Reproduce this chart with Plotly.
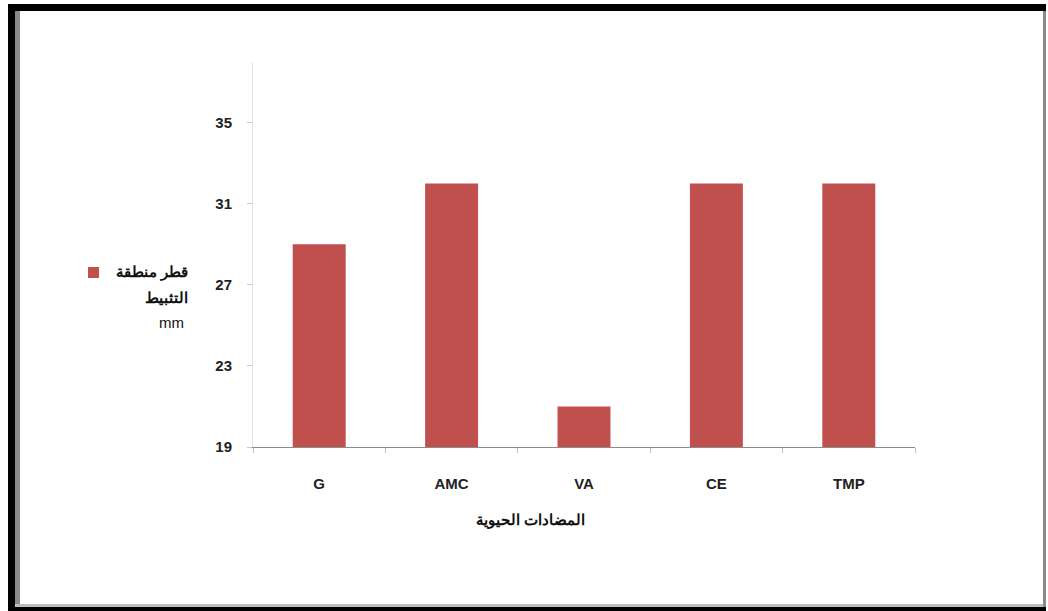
import plotly.graph_objects as go

categories = ["G", "AMC", "VA", "CE", "TMP"]
values = [29, 32, 21, 32, 32]
y_ticks = [19, 23, 27, 31, 35]
series_lines = ["قطر منطقة", "التثبيط", "mm"]
x_title = "المضادات الحيوية"

W, H = 1048, 611
L, R, T, B = 253, 915, 62, 447

def px(x):
    return (x - L) / (R - L)

def py(y):
    return (B - y) / (B - T)

BAR = "#c0504d"
FONT = "Liberation Sans"

fig = go.Figure()
fig.add_trace(go.Bar(x=categories, y=values, marker=dict(color=BAR, line=dict(width=0)),
                     showlegend=False))

fig.update_layout(
    width=W, height=H,
    margin=dict(l=L, r=W - R, t=T, b=H - B),
    paper_bgcolor="white", plot_bgcolor="white",
    bargap=0.6,
    font=dict(family=FONT, size=14, color="#222"),
    xaxis=dict(
        showline=True, linecolor="#8c8c8c", linewidth=1,
        ticks="outside", tickson="boundaries", ticklen=5, tickcolor="#bfbfbf",
        tickfont=dict(family=FONT, size=15, color="#222", weight="bold"),
        ticklabelstandoff=23, showgrid=False, zeroline=False,
    ),
    yaxis=dict(
        range=[19, 38], tickvals=y_ticks,
        showline=True, linecolor="#e0e0e0", linewidth=1,
        ticks="outside", ticklen=5, tickcolor="#c8c8c8",
        tickfont=dict(family=FONT, size=15, color="#222", weight="bold"),
        ticklabelstandoff=12, showgrid=False, zeroline=False,
    ),
    showlegend=False,
)

# x axis title
fig.add_annotation(text=x_title, xref="paper", yref="paper", x=px(530), y=py(520),
                   xanchor="center", yanchor="middle", showarrow=False,
                   font=dict(family=FONT, size=15, color="#111", weight="bold"))

# legend (placed on left as in reference)
leg_rows = [(190, 272, "bold"), (190, 297, "bold"), (186, 322, "normal")]
for txt, (xr, yc, wt) in zip(series_lines, leg_rows):
    fig.add_annotation(text=txt, xref="paper", yref="paper", x=px(xr), y=py(yc),
                       xanchor="right", yanchor="middle", showarrow=False,
                       font=dict(family=FONT, size=15, color="#111", weight=wt))
fig.add_shape(type="rect", xref="paper", yref="paper",
              x0=px(88), x1=px(99), y0=py(278), y1=py(267),
              fillcolor=BAR, line=dict(width=0))

# frame
def rect(x0, y0, x1, y1, color):
    fig.add_shape(type="rect", xref="paper", yref="paper",
                  x0=px(x0), x1=px(x1), y0=py(y1), y1=py(y0),
                  fillcolor=color, line=dict(width=0), layer="above")

rect(8, 4, 15, 611, "#000000")
rect(8, 4, 1046, 11, "#000000")
rect(8, 607, 1046, 611, "#000000")
rect(15, 11, 20, 607, "#8a8a8a")
rect(15, 604, 1044, 607, "#bdbdbd")
rect(1043, 11, 1046, 607, "#8a8a8a")

fig.write_html("out.html")
